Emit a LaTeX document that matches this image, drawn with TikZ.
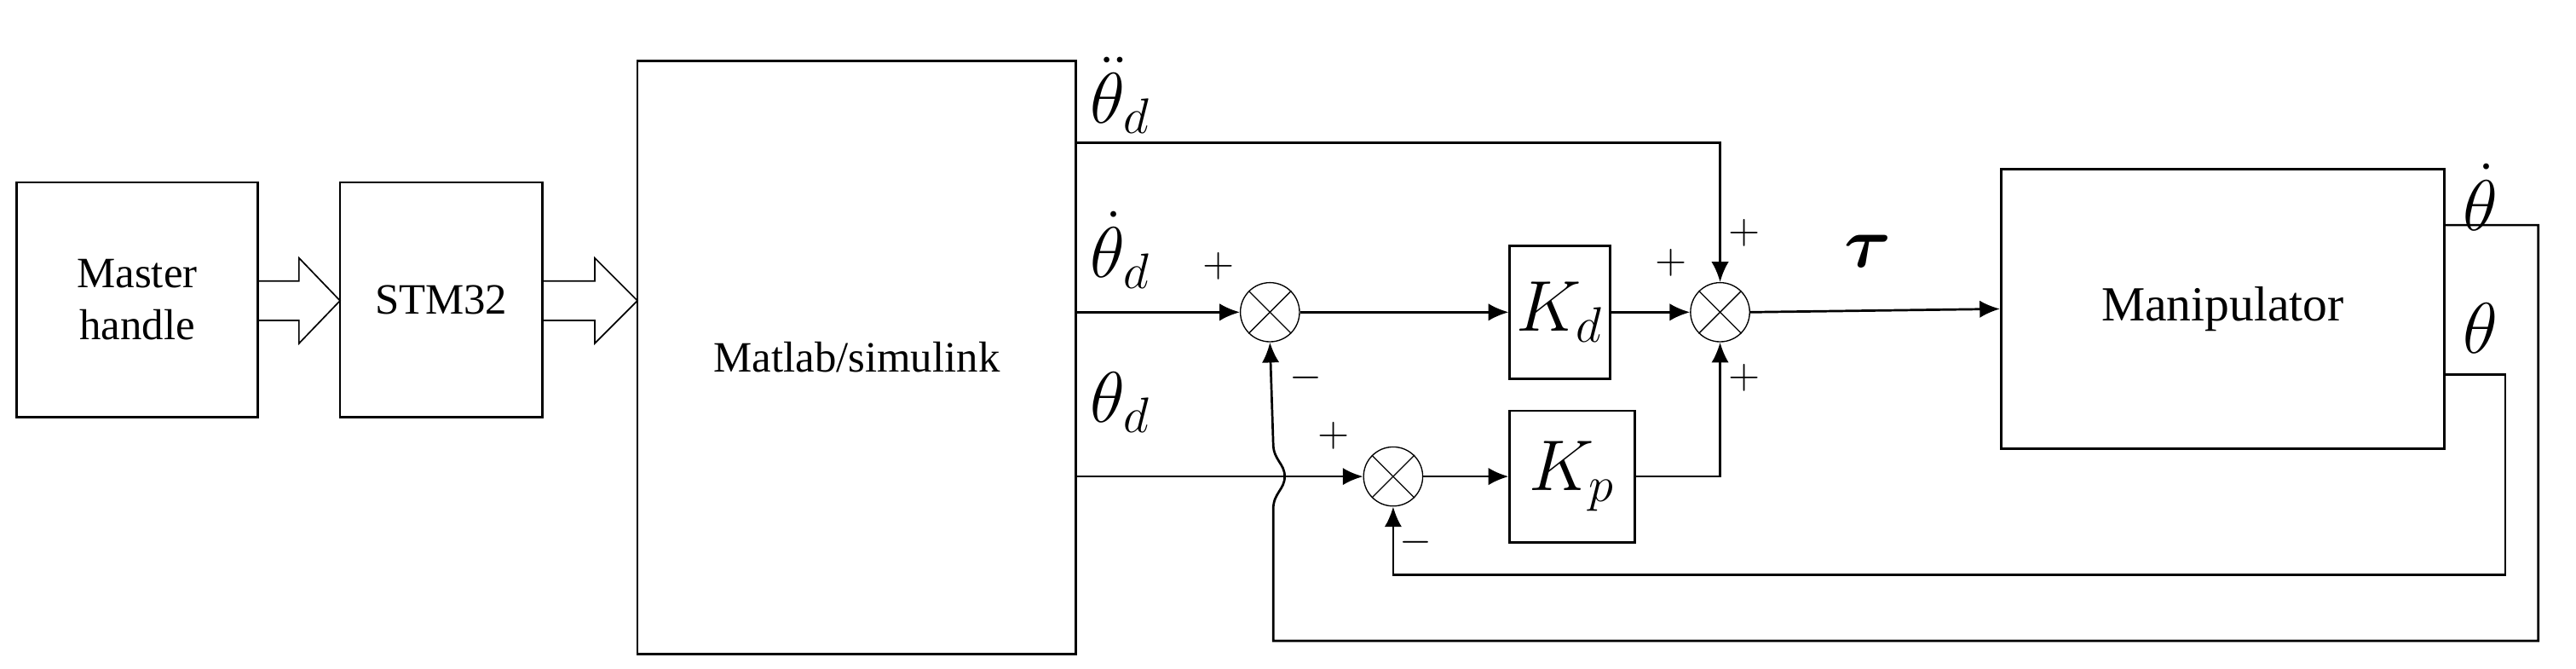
\documentclass[tikz,border=0pt]{standalone}
\usepackage{amsmath,bm}
\usepackage{fontspec}
\setmainfont{Liberation Serif}
\usetikzlibrary{arrows.meta}
\begin{document}
\begin{tikzpicture}[x=0.02cm,y=-0.02cm,
 blk/.style={draw,line width=0.8pt,inner sep=0pt},
 sum/.style={draw,circle,minimum size=0.72cm,inner sep=0pt},
 sig/.style={-{Latex[length=7pt,width=6pt]},line width=0.8pt},
 lab/.style={font=\fontsize{24}{26}\selectfont,inner sep=0pt},
 pm/.style={font=\fontsize{15}{16}\selectfont,inner sep=0pt}]
\useasboundingbox (0,0) rectangle (1568,407);
% blocks
\node[blk,minimum width=2.94cm,minimum height=2.86cm,align=center,font=\fontsize{15}{18}\selectfont] (master) at (83.5,182.5) {Master\\handle};
\node[blk,minimum width=2.46cm,minimum height=2.86cm,font=\fontsize{15}{18}\selectfont] (stm) at (268.5,182.5) {STM32};
\node[blk,minimum width=5.34cm,minimum height=7.22cm,font=\fontsize{15}{18}\selectfont] (matlab) at (521.5,217.5) {Matlab/simulink};
\node[blk,minimum width=5.4cm,minimum height=3.4cm,font=\fontsize{17}{20}\selectfont] (manip) at (1353,188) {Manipulator};
\node[blk,minimum width=1.22cm,minimum height=1.62cm,lab] (kd) at (949.5,190) {$K_d$};
\node[blk,minimum width=1.52cm,minimum height=1.6cm,lab] (kp) at (957,290) {$K_p$};
% hollow arrows
\foreach \xa/\xb/\xc in {157/182/207,330/362/388}
 \draw[line width=0.5pt] (\xa,171) -- (\xb,171) -- (\xb,157) -- (\xc,183) -- (\xb,209) -- (\xb,195) -- (\xa,195) -- cycle;
% summing junctions
\node[sum] (s1) at (773,190) {};
\node[sum] (s2) at (848,290) {};
\node[sum] (s3) at (1047,190) {};
\foreach \s in {s1,s2,s3}{
 \draw (\s.north west) -- (\s.south east);
 \draw (\s.north east) -- (\s.south west);
}
% coordinates
\coordinate (a1) at (655,87);
\coordinate (a2) at (1047,87);
\coordinate (v1) at (655,190);
\coordinate (p1) at (655,290);
\coordinate (b1) at (760,290);
\coordinate (kpr) at (1047,290);
\coordinate (o1) at (1488,137);
\coordinate (o2) at (1545,137);
\coordinate (o3) at (1545,390);
\coordinate (o4) at (775,390);
\coordinate (q1) at (1488,228);
\coordinate (q2) at (1525,228);
\coordinate (q3) at (1525,350);
\coordinate (q4) at (848,350);
% signals
\draw[sig] (a1) -- (a2) -- (s3.north);
\draw[sig] (v1) -- (s1.west);
\draw[sig] (s1.east) -- (kd.west);
\draw[sig] (kd.east) -- (s3.west);
\draw[sig] (s3.east) -- (manip.west);
\draw[line width=0.8pt] (p1) -- (b1);
\draw[sig] (b1) -- (s2.west);
\draw[sig] (s2.east) -- (kp.west);
\draw[sig] (kp.east) -- (kpr) -- (s3.south);
\draw[sig] (o1) -- (o2) -- (o3) -- (o4) -- (775,310) .. controls (775,300) and (782,298) .. (782,290) .. controls (782,282) and (775,280) .. (775,270) -- (s1.south);
\draw[sig] (q1) -- (q2) -- (q3) -- (q4) -- (s2.south);
% labels
\node[lab] (l1) at (682,58) {$\ddot{\theta}_d$};
\node[lab] (l2) at (682,152) {$\dot{\theta}_d$};
\node[lab] (l3) at (682,245) {$\theta_d$};
\node[lab] (tau) at (1137,153) {$\bm{\tau}$};
\node[lab] (l4) at (1510,120) {$\dot{\theta}$};
\node[lab] (l5) at (1510,200) {$\theta$};
\node[pm] at (742,162) {$+$};
\node[pm] at (795,230) {$-$};
\node[pm] at (812,265) {$+$};
\node[pm] at (862,330) {$-$};
\node[pm] at (1017,160) {$+$};
\node[pm] at (1062,142) {$+$};
\node[pm] at (1062,230) {$+$};
\end{tikzpicture}
\end{document}
